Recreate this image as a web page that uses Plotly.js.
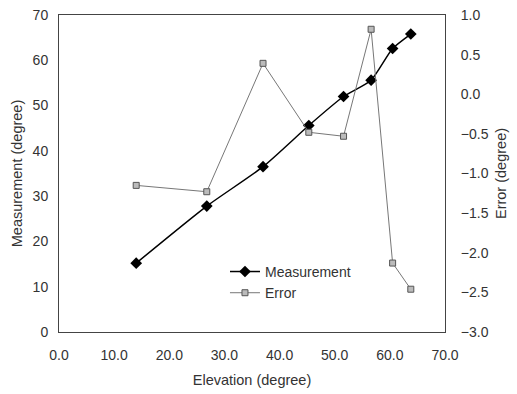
<!DOCTYPE html>
<html>
<head>
<meta charset="utf-8">
<script src="https://cdn.plot.ly/plotly-3.0.1.min.js"></script>
<style>html,body{margin:0;padding:0;background:#fff;}#chart{width:517px;height:394px;}</style>
</head>
<body>
<div id="chart"></div>
<script>
const elevation = [14.0, 26.8, 37.0, 45.3, 51.6, 56.6, 60.5, 63.8];
const measurement = [15.2, 27.8, 36.5, 45.6, 52.0, 55.6, 62.6, 65.8];
const errorVals = [-1.15, -1.23, 0.39, -0.48, -0.53, 0.82, -2.13, -2.46];
const xTicks = [0, 10, 20, 30, 40, 50, 60, 70];
const xTickLabels = ["0.0", "10.0", "20.0", "30.0", "40.0", "50.0", "60.0", "70.0"];

const tickFont = {family: "Liberation Sans, Arial, sans-serif", size: 14, color: "#333"};
const titleFont = {family: "Liberation Sans, Arial, sans-serif", size: 14.5, color: "#333"};

const traces = [
  {
    x: elevation, y: measurement, name: "Measurement", type: "scatter", mode: "lines+markers",
    line: {color: "#000", width: 1.5, shape: "spline", smoothing: 0.6},
    marker: {symbol: "diamond", size: 9, color: "#000"}
  },
  {
    x: elevation, y: errorVals, name: "Error", type: "scatter", mode: "lines+markers", yaxis: "y2",
    line: {color: "#777", width: 1},
    marker: {symbol: "square", size: 6, color: "#bbb", line: {color: "#555", width: 1}}
  }
];

const layout = {
  width: 517, height: 394,
  margin: {l: 59, r: 72, t: 15, b: 62},
  paper_bgcolor: "#fff", plot_bgcolor: "#fff",
  font: tickFont,
  showlegend: true,
  legend: {x: 0.43, y: 0.24, xanchor: "left", yanchor: "top", bgcolor: "rgba(0,0,0,0)", font: tickFont, tracegroupgap: 0},
  xaxis: {
    range: [0, 70], tickvals: xTicks, ticktext: xTickLabels,
    showgrid: false, zeroline: false, showline: true, mirror: true, linecolor: "#444", linewidth: 1,
    ticks: "", tickfont: tickFont, ticklabelstandoff: 10,
    title: {text: "Elevation (degree)", font: titleFont, standoff: 13}
  },
  yaxis: {
    range: [0, 70], dtick: 10, showgrid: false, zeroline: false, showline: true, linecolor: "#444", linewidth: 1,
    ticks: "", tickfont: tickFont, ticklabelstandoff: 7,
    title: {text: "Measurement (degree)", font: titleFont, standoff: 6}
  },
  yaxis2: {
    range: [-3, 1], dtick: 0.5, tickformat: ".1f", overlaying: "y", side: "right",
    showgrid: false, zeroline: false, showline: true, linecolor: "#444", linewidth: 1,
    ticks: "", tickfont: tickFont, ticklabelstandoff: 12,
    title: {text: "Error (degree)", font: titleFont, standoff: 8}
  }
};

Plotly.newPlot("chart", traces, layout, {displayModeBar: false, staticPlot: true});
</script>
</body>
</html>
